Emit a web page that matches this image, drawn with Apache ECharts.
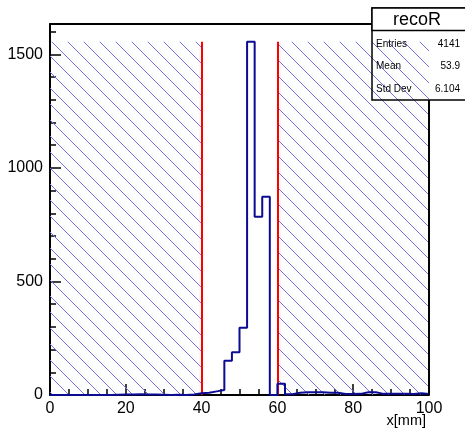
<!DOCTYPE html>
<html><head><meta charset="utf-8">
<script src="https://cdn.jsdelivr.net/npm/echarts@6/dist/echarts.min.js"></script>
<style>html,body{margin:0;padding:0;background:#fff}#c{width:465px;height:430px}</style>
</head><body><div id="c"></div>
<script>
// ---- data ----
const histName = 'recoR';
const binLow = 0;
const binWidth = 2;
const counts = [
  0, 0, 0, 0, 0, 0, 0, 0, 1, 2,
  2, 3, 2, 2, 1, 0, 1, 0, 2, 8,
  10, 16, 22, 151, 188, 296, 1556, 785, 873, 0,
  50, 3, 10, 12, 12, 12, 10, 10, 4, 4,
  5, 12, 12, 5, 5, 6, 6, 4, 8, 4
];
const cutLow = 40;
const cutHigh = 60;
const xMin = 0, xMax = 100, xStep = 20;
const yMin = 0, yMax = 1634, yStep = 500;
const statNames = ['Entries', 'Mean', 'Std Dev'];
const statValues = ['4141', '53.9', '6.104'];
const xTitle = 'x[mm]';

// ---- styles ----
const FONT = '"Liberation Sans", Arial, Helvetica, sans-serif';
const histColor = '#0b0b93';
const hatchColor = '#7474e2';
const hatchGap = 16;   // px between hatch lines (horizontal)
const hatchPhase = 10; // px offset of the hatch grid

const stepData = counts.map((v, i) => [binLow + i * binWidth, v]);
stepData.push([binLow + counts.length * binWidth, counts[counts.length - 1]]);
const peak = Math.max(...counts);
const hatchRegions = [[xMin, cutLow, peak], [cutHigh, xMax, peak]];

function renderHatch(params, api) {
  const p0 = api.coord([api.value(0), 0]);
  const p1 = api.coord([api.value(1), api.value(2)]);
  const L = p0[0], B = p0[1], R = p1[0], T = p1[1];
  const children = [];
  const cStart = Math.floor((L - B - hatchPhase) / hatchGap) * hatchGap + hatchPhase;
  for (let c = cStart; c <= R - T; c += hatchGap) {
    const ys = Math.max(T, L - c);
    const ye = Math.min(B, R - c);
    if (ye - ys > 0.5) {
      children.push({ type: 'line',
        shape: { x1: ys + c, y1: ys, x2: ye + c, y2: ye },
        style: { stroke: hatchColor, lineWidth: 1 } });
    }
  }
  return { type: 'group', children };
}

const chart = echarts.init(document.getElementById('c'), null, { renderer: 'canvas' });
const axisFont = { fontFamily: FONT, fontSize: 16, color: '#000' };

chart.setOption({
  animation: false,
  grid: { left: 50, right: 36, top: 24, bottom: 35 },
  xAxis: [{
    type: 'value', min: xMin, max: xMax, interval: xStep, position: 'bottom',
    axisLine: { show: true, onZero: false, lineStyle: { color: '#000', width: 2 } },
    axisTick: { show: true, inside: true, length: 11, lineStyle: { color: '#000', width: 1.5 } },
    minorTick: { show: true, splitNumber: 4, length: 6, lineStyle: { color: '#000', width: 1.5 } },
    axisLabel: Object.assign({ margin: 6 }, axisFont),
    splitLine: { show: false }
  }, {
    type: 'value', min: xMin, max: xMax, position: 'top',
    axisLine: { show: true, onZero: false, lineStyle: { color: '#000', width: 2 } },
    axisTick: { show: false }, axisLabel: { show: false }, splitLine: { show: false }
  }],
  yAxis: [{
    type: 'value', min: yMin, max: yMax, interval: yStep,
    axisLine: { show: true, onZero: false, lineStyle: { color: '#000', width: 2 } },
    axisTick: { show: true, inside: true, length: 11, lineStyle: { color: '#000', width: 1.5 } },
    minorTick: { show: true, splitNumber: 5, length: 6, lineStyle: { color: '#000', width: 1.5 } },
    axisLabel: Object.assign({ margin: 7, showMaxLabel: false,
      formatter: v => (v % yStep === 0 ? String(v) : '') }, axisFont),
    splitLine: { show: false }
  }],
  series: [{
    type: 'custom',
    renderItem: renderHatch,
    data: hatchRegions,
    encode: { x: [0, 1], y: 2 },
    silent: true,
    z: 1
  }, {
    type: 'line',
    data: stepData,
    step: 'end',
    symbol: 'none',
    z: 5,
    lineStyle: { color: histColor, width: 2 },
    markLine: {
      silent: true, symbol: 'none', label: { show: false },
      lineStyle: { color: '#ff0000', width: 2, type: 'solid' },
      data: [
        [{ coord: [cutLow, 0] }, { coord: [cutLow, peak] }],
        [{ coord: [cutHigh, 0] }, { coord: [cutHigh, peak] }]
      ]
    }
  }],
  graphic: [
    { type: 'text', left: 'center', top: -15, z: 10,
      style: { text: histName, font: '18px ' + FONT, fill: '#999' } },
    { type: 'text', right: 39, top: 413, z: 10,
      style: { text: xTitle, font: '14.5px ' + FONT, fill: '#000' } },
    { type: 'line', z: 10, shape: { x1: 429, y1: 100, x2: 429, y2: 395 },
      style: { stroke: '#000', lineWidth: 2 } },
    { type: 'rect', z: 20, shape: { x: 372, y: 8, width: 100, height: 92 },
      style: { fill: 'rgba(255,255,255,0)', stroke: '#000', lineWidth: 1.5 } },
    { type: 'rect', z: 21, shape: { x: 372, y: 8, width: 100, height: 22.5 },
      style: { fill: '#fff', stroke: '#000', lineWidth: 1.5 } },
    { type: 'text', z: 22, x: 417, y: 20,
      style: { text: histName, font: '18px ' + FONT, fill: '#000', align: 'center', verticalAlign: 'middle' } }
  ].concat(
    statNames.map((n, i) => ({ type: 'text', z: 22, x: 376, y: 44 + i * 22.7,
      style: { text: n, font: '10px ' + FONT, fill: '#000', align: 'left', verticalAlign: 'middle' } })),
    statValues.map((v, i) => ({ type: 'text', z: 22, x: 460, y: 44 + i * 22.7,
      style: { text: v, font: '10px ' + FONT, fill: '#000', align: 'right', verticalAlign: 'middle' } }))
  )
});
</script>
</body></html>
